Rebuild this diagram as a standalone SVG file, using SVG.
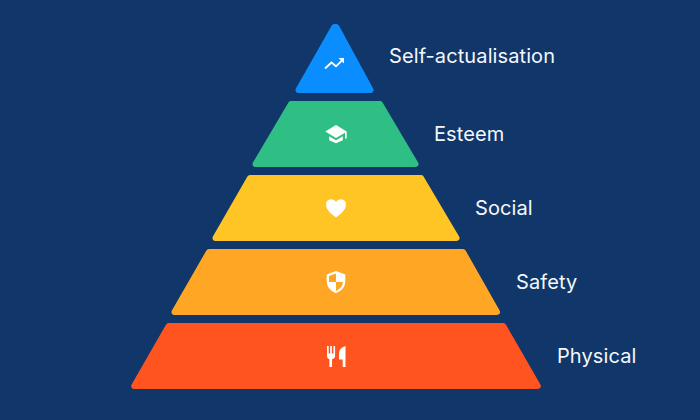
<svg xmlns="http://www.w3.org/2000/svg" width="700" height="420" viewBox="0 0 700 420">
<style>
.lv{stroke-width:6;stroke-linejoin:round}
.lb{font-family:"Inter","Liberation Sans",sans-serif;font-size:20px;fill:#f5f7fa;letter-spacing:.1px}
.ic{fill:#fff}
</style>
<rect width="700" height="420" fill="#10366a"/>
<g id="level-physical">
<polygon class="lv" points="168.7,326 503.3,326 537.8,386 134.2,386" fill="#ff541f" stroke="#ff541f"/>
<path class="ic" d="M327,346h1.700v7.500h1.500v-7.500h1.700v7.500h1.500v-7.500h1.700v9.500q0,3.200-3.100,3.800v7.700h-2.600v-7.700q-2.400-.6-2.400-3.800z"/>
<path class="ic" d="M345.500,346v21h-2.800v-7.500h-3.700v-6q0-5.500,6.500-7.500z"/>
<text class="lb" x="557" y="363">Physical</text>
</g>
<g id="level-safety">
<polygon class="lv" points="209,252 463,252 497,312 174.500,312" fill="#ffa724" stroke="#ffa724"/>
<path class="ic" d="M336,271l9.300,3.500v6.500q0,8.700-9.300,12.300q-9.300-3.600-9.300-12.300v-6.500z"/>
<path fill="#ffa724" d="M336,273.600v8.400h-7v-6zM336,282h7q-.8,6.200-7,9z"/>
<text class="lb" x="516" y="289">Safety</text>
</g>
<g id="level-social">
<polygon class="lv" points="250,178 421,178 456.500,238 215.500,238" fill="#ffc524" stroke="#ffc524"/>
<path class="ic" d="M336,217.500q-10-7-10-12.500q0-5.500 5.200-5.800q3.200-.1 4.800,2.600q1.600-2.700 4.800-2.600q5.200.3 5.200,5.800q0,5.500-10,12.500z"/>
<text class="lb" x="475" y="215">Social</text>
</g>
<g id="level-esteem">
<polygon class="lv" points="291,104 380,104 415.500,164 255.500,164" fill="#2fbf85" stroke="#2fbf85"/>
<path class="ic" d="M336,125l10.700,6.500v7h-1.700v-5.800l-9,5.300l-10.700-6.500z"/>
<path class="ic" d="M329.200,136.200l6.800,4l6.800-4v4l-6.800,3l-6.800-3z"/>
<text class="lb" x="434" y="141">Esteem</text>
</g>
<g id="level-self-actualisation">
<polygon class="lv" points="334.300,27 336.300,27 370.500,90 298.500,90" fill="#0a8dff" stroke="#0a8dff"/>
<path d="M325,68.500l6.500-6l4.500,3.800l7-6.800" fill="none" stroke="#fff" stroke-width="1.800"/>
<path class="ic" d="M338.500,58h5.500v5.500z"/>
<text class="lb" x="389" y="63">Self-actualisation</text>
</g>
</svg>
